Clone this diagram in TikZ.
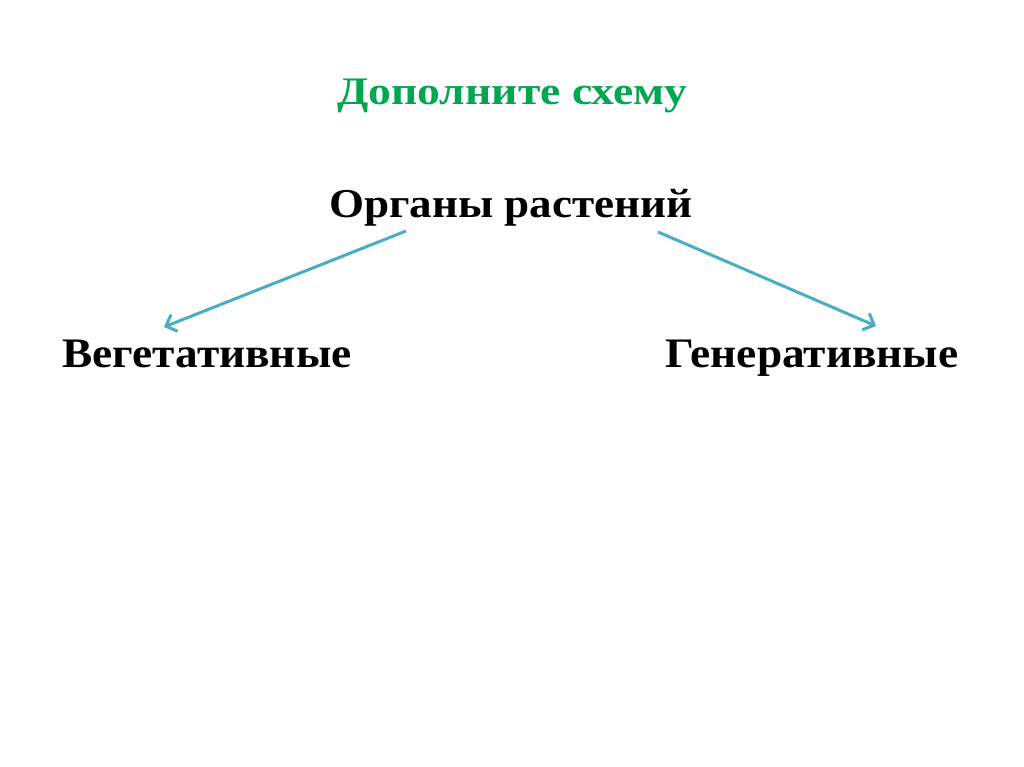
\documentclass[tikz,border=0pt]{standalone}
\usepackage{fontspec}
\setmainfont{Liberation Serif}
\newfontfamily\titlefont[FakeStretch=1.17]{Liberation Serif}
\newfontfamily\rootfont[FakeStretch=1.10]{Liberation Serif}
\newfontfamily\labelfont[FakeStretch=1.08]{Liberation Serif}
\usetikzlibrary{arrows.meta}
\definecolor{titlegreen}{HTML}{00A650}
\definecolor{arrowblue}{HTML}{4BACC6}
\tikzset{
  lbl/.style={inner sep=0pt, anchor=base west, font=\labelfont\bfseries\fontsize{42}{48}\selectfont},
  conn/.style={draw=arrowblue, line width=3pt, -{Straight Barb[length=9pt,width=18pt,line width=3pt]}}
}
\begin{document}
\begin{tikzpicture}[x=1pt,y=-1pt]
\useasboundingbox (0,0) rectangle (1024,767);
\node[lbl, font=\titlefont\bfseries\fontsize{39}{46}\selectfont, text=titlegreen] (title) at (337,105) {Дополните схему};
\node[lbl, font=\rootfont\bfseries\fontsize{41}{46}\selectfont] (root) at (329,218) {Органы растений};
\node[lbl] (veg) at (62,367) {Вегетативные};
\node[lbl] (gen) at (665,367) {Генеративные};
\coordinate (a1) at (406,231);
\coordinate (a2) at (658,232);
\coordinate (v1) at (164,327);
\coordinate (g1) at (876,326);
\draw[conn] (a1) -- (v1);
\draw[conn] (a2) -- (g1);
\end{tikzpicture}
\end{document}
